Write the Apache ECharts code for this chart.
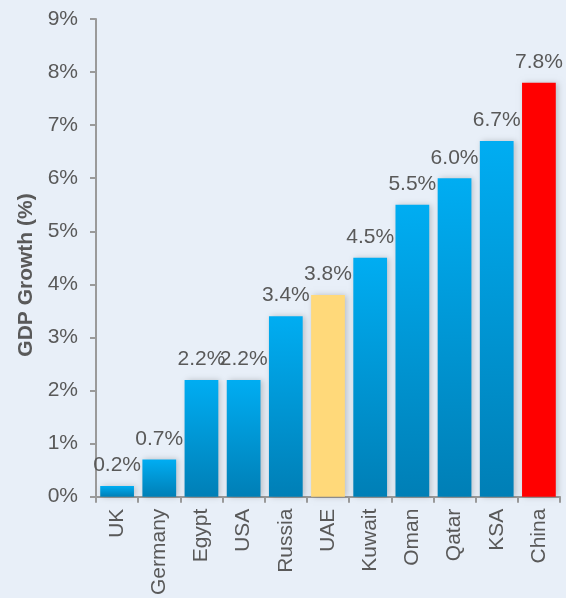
<!DOCTYPE html>
<html><head><meta charset="utf-8">
<script src="https://cdn.jsdelivr.net/npm/echarts@6/dist/echarts.min.js"></script>
<style>html,body{margin:0;padding:0;background:#e8eff8;}#c{width:566px;height:598px;}</style>
</head><body><div id="c"></div>
<script>
const categories = ['UK','Germany','Egypt','USA','Russia','UAE','Kuwait','Oman','Qatar','KSA','China'];
const growth = [0.2,0.7,2.2,2.2,3.4,3.8,4.5,5.5,6.0,6.7,7.8];
const yTicks = [0,1,2,3,4,5,6,7,8,9];
const yTitle = 'GDP Growth (%)';
const blueGrad = new echarts.graphic.LinearGradient(0,0,0,1,[{offset:0,color:'#00adf2'},{offset:1,color:'#007fb6'}]);
const special = {UAE:'#ffd97a', China:'#ff0000'};
const FF = 'Liberation Sans, Arial';
const chart = echarts.init(document.getElementById('c'));
chart.setOption({
  backgroundColor:'#e8eff8',
  grid:{left:96,right:6,top:19,bottom:100},
  graphic:[{type:'text',x:26,y:275,rotation:Math.PI/2,
    style:{text:yTitle,font:'bold 21px '+FF,fill:'#595959',textAlign:'center',textVerticalAlign:'middle'}}],
  xAxis:{type:'category',data:categories,
    axisLine:{lineStyle:{color:'#9a9a9a',width:2}},
    axisTick:{show:true,length:6,lineStyle:{color:'#9a9a9a',width:2}},
    axisLabel:{rotate:90,color:'#595959',fontSize:21,fontFamily:FF,margin:12}},
  yAxis:{type:'value',min:0,max:9,interval:1,
    splitLine:{show:false},
    axisLine:{show:true,lineStyle:{color:'#9a9a9a',width:2}},
    axisTick:{show:true,length:6,lineStyle:{color:'#9a9a9a',width:2}},
    axisLabel:{formatter:v=>yTicks.includes(v)?v+'%':'',color:'#595959',fontSize:21,fontFamily:FF,margin:18}},
  series:[{type:'bar',barWidth:'80%',
    data:growth.map((v,i)=>({value:v,itemStyle:{color:special[categories[i]]||blueGrad}})),
    itemStyle:{shadowBlur:6,shadowOffsetX:2,shadowOffsetY:0,shadowColor:'rgba(0,0,0,0.2)'},
    label:{show:true,position:'top',distance:10,formatter:p=>p.value.toFixed(1)+'%',color:'#595959',fontSize:21,fontFamily:FF}}]
});
</script></body></html>
